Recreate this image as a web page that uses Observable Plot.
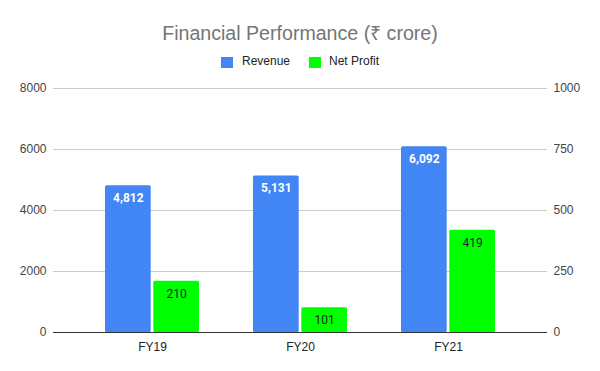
<!DOCTYPE html>
<html>
<head>
<meta charset="utf-8">
<script src="https://cdn.jsdelivr.net/npm/d3@7"></script>
<script src="https://cdn.jsdelivr.net/npm/@observablehq/plot@0.6"></script>
<style>
  body { margin: 0; background: #fff; width: 600px; height: 371px; position: relative; overflow: hidden; }
  #title { position: absolute; left: 0; width: 600px; top: 19px; text-align: center; font-family: "Liberation Sans", Arial, sans-serif; font-size: 19.6px; color: #757575; }
  .sw { position: absolute; width: 12px; height: 11px; top: 57px; }
  .lt { position: absolute; top: 54px; font-family: "Liberation Sans", Arial, sans-serif; font-size: 12px; color: #222; }
  #chart { position: absolute; left: 0; top: 76px; }
</style>
</head>
<body>
<div id="title">Financial Performance (₹ crore)</div>
<div class="sw" style="left:221px;background:#4285F4"></div>
<div class="lt" style="left:242px">Revenue</div>
<div class="sw" style="left:309px;background:#00FF00"></div>
<div class="lt" style="left:329px">Net Profit</div>
<div id="chart"></div>
<script>
const categories = ["FY19", "FY20", "FY21"];
const revenue = [4812, 5131, 6092];
const netProfit = [210, 101, 419];
const leftTicks = [0, 2000, 4000, 6000, 8000];
const rightTicks = [0, 250, 500, 750, 1000];

const ratio = 8000 / 1000;
const data = categories.map((c, i) => ({cat: c, rev: revenue[i], np: netProfit[i]}));

const barW = 45.7, inset = 48.3;
const chart = Plot.plot({
  width: 600,
  height: 295,
  marginLeft: 53,
  marginRight: 53,
  marginTop: 12,
  marginBottom: 39,
  style: {fontFamily: "Liberation Sans, Arial, sans-serif", fontSize: "12px", color: "#444", background: "transparent"},
  x: {domain: categories, paddingInner: 0.365, paddingOuter: 0.35, axis: null},
  y: {domain: [0, 8000], axis: null},
  marks: [
    Plot.ruleY(leftTicks.slice(1), {stroke: "#cccccc", strokeWidth: 1}),
    Plot.barY(data, {x: "cat", y: "rev", fill: "#4285F4", insetRight: inset, rx: 1.5}),
    Plot.barY(data, {x: "cat", y: d => d.np * ratio, fill: "#00FF00", insetLeft: inset, rx: 1.5}),
    Plot.ruleY([0], {stroke: "#333333", strokeWidth: 1}),
    Plot.text(data, {x: "cat", y: "rev", text: d => d3.format(",")(d.rev), dx: -24.15, dy: 12.5, fill: "white", fontWeight: "bold", fontFamily: "Roboto", fontSize: 12}),
    Plot.text(data, {x: "cat", y: d => d.np * ratio, text: d => String(d.np), dx: 24.15, dy: 12.5, fill: "#222", fontFamily: "Roboto", fontSize: 12}),
    Plot.axisY({anchor: "left", ticks: leftTicks, tickSize: 0, tickPadding: 7, label: null, tickFormat: d => String(d)}),
    Plot.axisY({anchor: "right", ticks: rightTicks.map(v => v * ratio), tickSize: 0, tickPadding: 6, label: null, tickFormat: d => String(d / ratio)}),
    Plot.axisX({anchor: "bottom", tickSize: 0, tickPadding: 9.5, label: null, fontSize: 12, fill: "#222"})
  ]
});
document.getElementById("chart").appendChild(chart);
</script>
</body>
</html>
